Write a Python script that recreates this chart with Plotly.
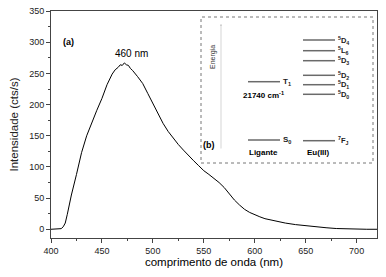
import plotly.graph_objects as go

# ---- data ----
wavelength = [400, 405, 408, 410, 412, 414, 416, 418, 420, 425, 430, 435, 440, 445, 450, 455,
              460, 463, 466, 468, 470, 472, 474, 476, 478, 480, 485, 490, 495, 500, 505, 510,
              515, 520, 525, 530, 535, 540, 545, 550, 555, 560, 565, 570, 575, 580, 585, 590,
              595, 600, 605, 610, 615, 620, 630, 640, 650, 660, 670, 680, 690, 700, 710, 720]
intensity = [0, 0, 0, 1, 4, 10, 24, 40, 55, 88, 123, 150, 172, 191, 210, 232,
             249, 256, 260, 264, 263, 267, 264, 263, 258, 255, 245, 234, 218, 202, 185, 170,
             157, 146, 136, 127, 118, 110, 102, 94, 88, 82, 75, 67, 57, 47, 39, 32,
             27, 23, 20, 17, 15, 13, 10, 7.5, 5.5, 3.8, 2.5, 1.2, 0.4, 0, 0, 0]

x_ticks = [400, 450, 500, 550, 600, 650, 700]
y_ticks = [0, 50, 100, 150, 200, 250, 300, 350]

eu_levels = ["<sup>5</sup>D<sub>4</sub>", "<sup>5</sup>L<sub>6</sub>", "<sup>5</sup>D<sub>3</sub>",
             "<sup>5</sup>D<sub>2</sub>", "<sup>5</sup>D<sub>1</sub>", "<sup>5</sup>D<sub>0</sub>",
             "<sup>7</sup>F<sub>J</sub>"]
ligand_levels = ["T<sub>1</sub>", "S<sub>0</sub>"]

# ---- layout helpers (page pixel -> paper) ----
OFF = 8                      # default page body margin
W, H = 386 - OFF, 277 - OFF  # figure size so that it fills the window
L, R, T, B = 51, 377, 11, 238  # plot area in page pixels
def px(x):
    return (x - L) / (R - L)
def py(y):
    return (B - y) / (B - T)

FONT = "Liberation Sans, Arial, sans-serif"

fig = go.Figure()
fig.add_trace(go.Scatter(x=wavelength, y=intensity, mode="lines",
                         line=dict(color="black", width=1), showlegend=False))

shapes = []
annotations = []

# inset box
shapes.append(dict(type="rect", xref="paper", yref="paper",
                   x0=px(201), x1=px(373), y0=py(163), y1=py(17),
                   line=dict(color="#777777", width=1, dash="dot")))

# energy levels
eu_y = [40, 50.7, 60.7, 75.3, 84.7, 94.3, 140.7]
for lab, yy in zip(eu_levels, eu_y):
    shapes.append(dict(type="line", xref="paper", yref="paper",
                       x0=px(303), x1=px(335), y0=py(yy), y1=py(yy),
                       line=dict(color="#6a6a6a", width=1.5)))
    annotations.append(dict(xref="paper", yref="paper", x=px(336), y=py(yy),
                            text="<b>" + lab + "</b>", showarrow=False, xanchor="left", yanchor="middle",
                            font=dict(family=FONT, size=7.5, color="#222222")))
lig_y = [81.7, 140]
for lab, yy in zip(ligand_levels, lig_y):
    shapes.append(dict(type="line", xref="paper", yref="paper",
                       x0=px(248), x1=px(280), y0=py(yy), y1=py(yy),
                       line=dict(color="#6a6a6a", width=1.5)))
    annotations.append(dict(xref="paper", yref="paper", x=px(281), y=py(yy),
                            text="<b>" + lab + "</b>", showarrow=False, xanchor="left", yanchor="middle",
                            font=dict(family=FONT, size=8, color="#222222")))

# energy arrow
annotations.append(dict(xref="paper", yref="paper", x=px(221), y=py(24),
                        ax=0, ay=126, text="", showarrow=True, arrowhead=2,
                        arrowsize=0.6, arrowwidth=0.6, arrowcolor="#bbbbbb"))
annotations.append(dict(xref="paper", yref="paper", x=px(213), y=py(43),
                        text="Energia", showarrow=False, textangle=-90,
                        font=dict(family=FONT, size=7, color="#333333")))

texts = [
    ("<b>21740 cm<sup>-1</sup></b>", 263, 95, 8),
    ("<b>Ligante</b>", 263, 152, 8),
    ("<b>Eu(III)</b>", 318, 152, 8),
    ("<b>(b)</b>", 209, 145, 9),
    ("<b>(a)</b>", 68, 42, 9),
    ("460 nm", 131, 53, 10),
]
for t, x, y, s in texts:
    annotations.append(dict(xref="paper", yref="paper", x=px(x), y=py(y), text=t,
                            showarrow=False, xanchor="center", yanchor="middle",
                            font=dict(family=FONT, size=s, color="black")))

axis_common = dict(showline=True, linecolor="#444444", linewidth=1, mirror=True,
                   ticks="outside", ticklen=4, tickcolor="#444444", tickwidth=1,
                   showgrid=False, zeroline=False, automargin=False,
                   ticklabeloverflow="allow",
                   tickfont=dict(family=FONT, size=9, color="#222222"))

fig.update_layout(
    width=W, height=H,
    margin=dict(l=L - OFF, r=386 - R, t=T - OFF, b=277 - B, autoexpand=False),
    paper_bgcolor="white", plot_bgcolor="white",
    xaxis=dict(range=[400, 720], tickvals=x_ticks, ticktext=[str(v) for v in x_ticks],
               minor=dict(dtick=25, tick0=400, ticks="outside", ticklen=2, tickcolor="#444444"),
               title=dict(text="comprimento de onda (nm)", standoff=2,
                          font=dict(family=FONT, size=11.5, color="black")),
               **axis_common),
    yaxis=dict(range=[-14, 350.3], tickvals=y_ticks, ticktext=[str(v) for v in y_ticks],
               minor=dict(dtick=25, tick0=0, ticks="outside", ticklen=2, tickcolor="#444444"),
               title=dict(text="Intensidade (cts/s)", standoff=8,
                          font=dict(family=FONT, size=11.5, color="#222222")),
               **axis_common),
    shapes=shapes, annotations=annotations,
)

fig.write_html("out.html")
